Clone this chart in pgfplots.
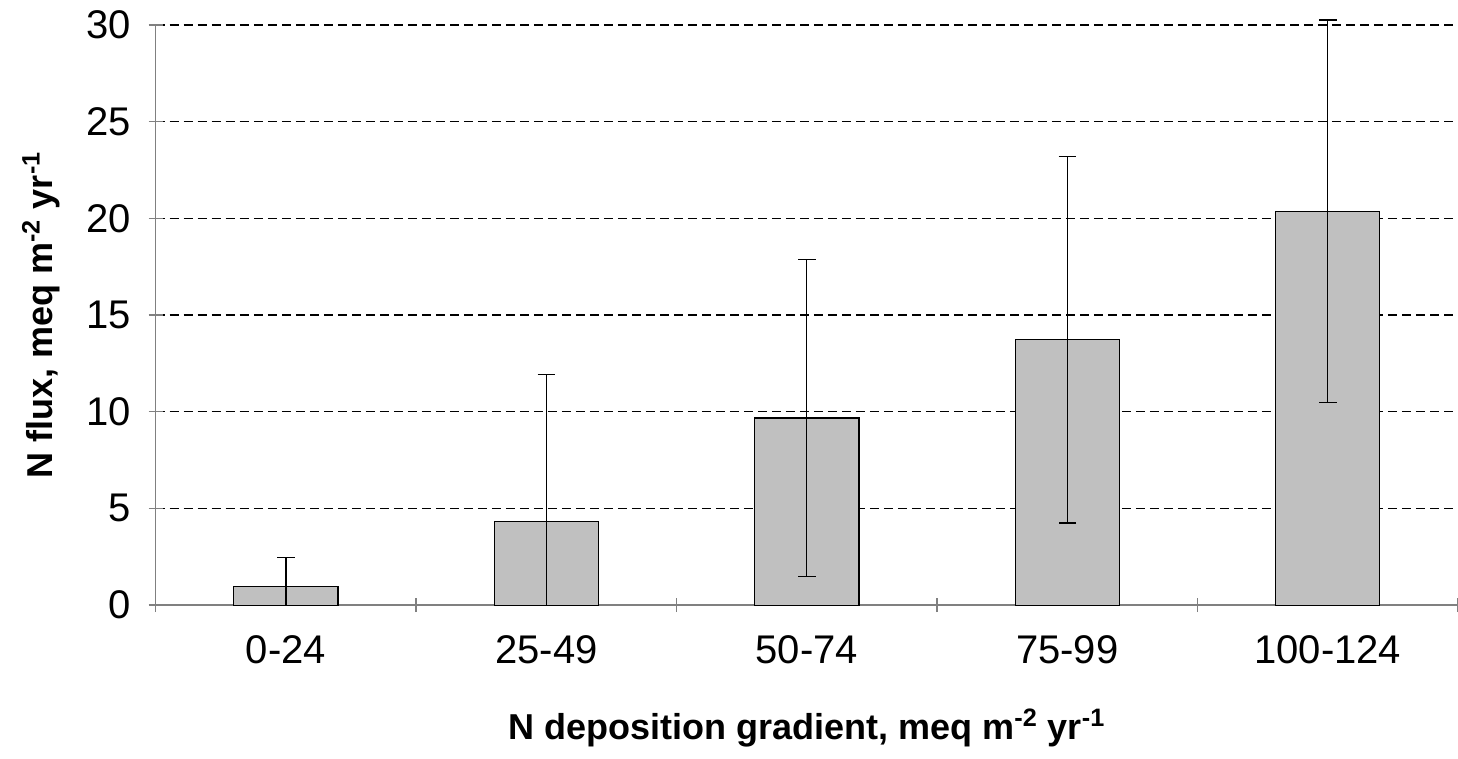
\documentclass[border=0pt]{standalone}
\usepackage{pgfplots}
\pgfplotsset{compat=1.18}
\usepackage{fontspec}
\setmainfont{Liberation Sans}

\definecolor{barfill}{HTML}{C0C0C0}
\definecolor{axisgray}{HTML}{808080}

% mean, upper error, lower error (lower clipped at 0 for first two groups)
\pgfplotstableread{
x y ep
0 0.96 1.49
1 4.33 7.59
2 9.68 8.21
3 13.72 9.47
4 20.36 9.90
}\fluxdata
\pgfplotstableread{
x y em
2 9.68 8.21
3 13.72 9.47
4 20.36 9.90
}\fluxlow
\pgfplotstableread{
x y em
0 0.96 0.96
1 4.33 4.33
}\fluxlowcut

\begin{document}
\begin{tikzpicture}
\useasboundingbox (-77.85pt,-76.5pt) rectangle (651pt,302.5pt);
\begin{axis}[
    at={(0,0)}, anchor=south west,
    scale only axis,
    width=651pt, height=290pt,
    xmin=-0.5, xmax=4.5,
    ymin=0, ymax=30,
    clip=false,
    ytick={0,5,...,30},
    xtick={0,1,2,3,4},
    xticklabels={0-24,25-49,50-74,75-99,100-124},
    minor xtick={-0.5,0.5,1.5,2.5,3.5,4.5},
    every major x tick/.style={draw=none},
    major tick length=7pt, minor tick length=7pt,
    tick align=outside,
    axis lines=left,
    axis line style={-, draw=axisgray, line width=0.7pt},
    every tick/.style={axisgray, line width=0.7pt},
    ymajorgrids,
    grid style={black, line width=0.6pt, dash pattern=on 4.5pt off 2.5pt},
    /pgf/number format/assume math mode=true,
    ticklabel style={font=\fontsize{20}{24}\selectfont},
    xticklabel style={yshift=-8pt},
    yticklabel style={xshift=-5.5pt},
    xlabel={N deposition gradient, meq m\textsuperscript{-2} yr\textsuperscript{-1}},
    ylabel={N flux, meq m\textsuperscript{-2} yr\textsuperscript{-1}},
    label style={font=\fontsize{18}{22}\selectfont\bfseries},
    xlabel style={at={(axis description cs:0.5,-0.212)}, anchor=center},
    ylabel style={at={(axis description cs:-0.0883,0.5)}, anchor=center},
    errbar/.style={draw=none, no markers,
        error bars/y explicit,
        error bars/error bar style={draw=black, solid, line width=0.6pt},
        error bars/error mark options={rotate=90, mark size=4.4pt, draw=black, solid, line width=0.6pt}},
]
\addplot[ybar, bar width=0.4, fill=barfill, draw=black, line width=0.6pt]
    table[x=x, y=y] {\fluxdata};
% upper error bars
\addplot[errbar, error bars/y dir=plus]
    table[x=x, y=y, y error=ep] {\fluxdata};
% lower error bars
\addplot[errbar, error bars/y dir=minus]
    table[x=x, y=y, y error=em] {\fluxlow};
\addplot[errbar, error bars/y dir=minus, error bars/error mark=none]
    table[x=x, y=y, y error=em] {\fluxlowcut};
\end{axis}
\end{tikzpicture}
\end{document}
